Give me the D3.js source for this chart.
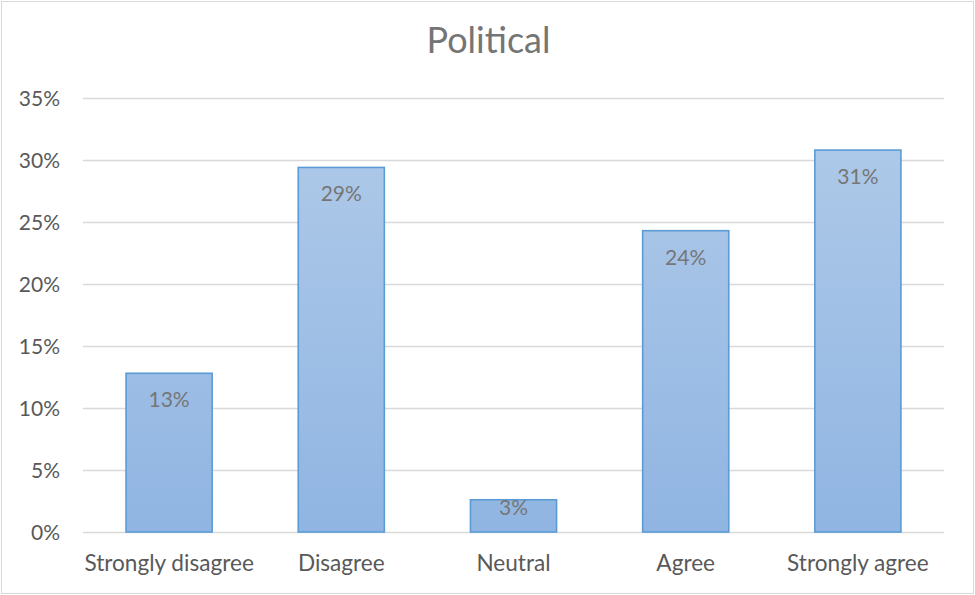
<!DOCTYPE html>
<html>
<head>
<meta charset="utf-8">
<script src="https://cdn.jsdelivr.net/npm/d3@7"></script>
<style>
  html, body { margin: 0; padding: 0; background: #fff; }
  svg { display: block; }
  text { font-family: Lato, "Open Sans", "Liberation Sans", sans-serif; }
</style>
</head>
<body>
<svg id="chart" width="975" height="595"></svg>
<script>
// Survey responses, share of respondents
const categories = ["Strongly disagree", "Disagree", "Neutral", "Agree", "Strongly agree"];
const values = [0.128, 0.294, 0.026, 0.243, 0.308];
const labels = ["13%", "29%", "3%", "24%", "31%"];
const yTicks = [0, 0.05, 0.10, 0.15, 0.20, 0.25, 0.30, 0.35];
const title = "Political";

const W = 975, H = 595;
const margin = { top: 98, right: 31, bottom: 63, left: 83 };

const svg = d3.select("#chart");

// chart frame
svg.append("rect")
  .attr("x", 1.5).attr("y", 1.5)
  .attr("width", W - 3).attr("height", H - 3)
  .attr("fill", "#fff").attr("stroke", "#d9d9d9").attr("stroke-width", 1);

const x = d3.scaleBand()
  .domain(categories)
  .range([margin.left, W - margin.right])
  .paddingInner(0.5).paddingOuter(0.25);

const y = d3.scaleLinear()
  .domain([0, 0.35])
  .range([H - margin.bottom, margin.top]);

// bar gradient
const defs = svg.append("defs");
const grad = defs.append("linearGradient")
  .attr("id", "barFill")
  .attr("gradientUnits", "userSpaceOnUse")
  .attr("x1", 0).attr("x2", 0)
  .attr("y1", y(0.35)).attr("y2", y(0));
grad.append("stop").attr("offset", "0%").attr("stop-color", "#b1cbe9");
grad.append("stop").attr("offset", "100%").attr("stop-color", "#90b5e2");

// gridlines and value axis
const yAxis = d3.axisLeft(y)
  .tickValues(yTicks)
  .tickFormat(d3.format(".0%"))
  .tickSize(-(W - margin.left - margin.right))
  .tickPadding(23);

const gy = svg.append("g")
  .attr("transform", `translate(${margin.left},0)`)
  .call(yAxis);
gy.select(".domain").remove();
gy.selectAll(".tick line").attr("stroke", "#d9d9d9").attr("stroke-width", 1.3);
gy.selectAll(".tick text")
  .attr("dy", "0.37em")
  .attr("fill", "#595959").attr("font-size", 21);

// bars
svg.append("g").selectAll("rect")
  .data(values)
  .join("rect")
  .attr("x", (d, i) => x(categories[i]))
  .attr("y", d => y(d))
  .attr("width", x.bandwidth())
  .attr("height", d => y(0) - y(d))
  .attr("fill", "url(#barFill)")
  .attr("stroke", "#5b9bd5")
  .attr("stroke-width", 1.6);

// data labels, inside the top of each bar
svg.append("g").selectAll("text")
  .data(values)
  .join("text")
  .attr("x", (d, i) => x(categories[i]) + x.bandwidth() / 2)
  .attr("y", d => Math.min(y(d) + 34, y(0) - 17))
  .attr("text-anchor", "middle")
  .attr("fill", "#767676")
  .attr("font-size", 21)
  .text((d, i) => labels[i]);

// category axis
const gx = svg.append("g")
  .attr("transform", `translate(0,${y(0)})`)
  .call(d3.axisBottom(x).tickSize(0));
gx.select(".domain").remove();
gx.selectAll(".tick text")
  .attr("y", 39).attr("dy", null)
  .attr("fill", "#595959").attr("font-size", 22.6);

// title
svg.append("text")
  .attr("x", (margin.left + W - margin.right) / 2 - 25)
  .attr("y", 53)
  .attr("text-anchor", "middle")
  .attr("fill", "#757575")
  .attr("font-size", 36)
  .text(title);
</script>
</body>
</html>
